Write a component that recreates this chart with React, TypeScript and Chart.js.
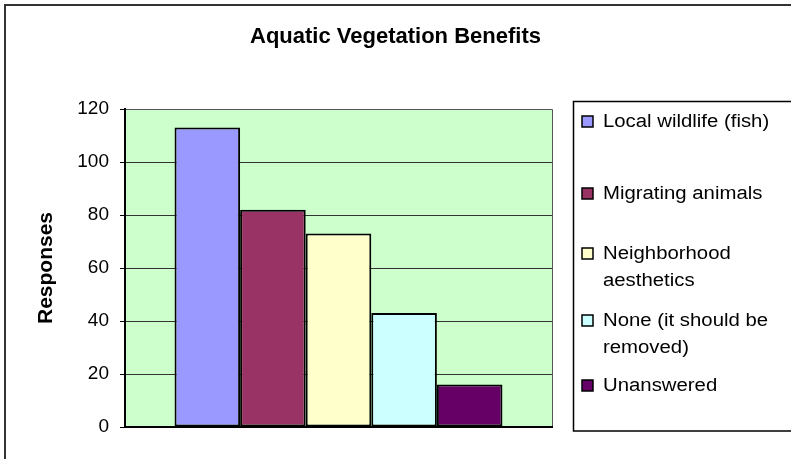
import React, { useEffect, useRef } from "react";
import { Chart, registerables } from "chart.js";

Chart.register(...registerables);

const chartTitle = "Aquatic Vegetation Benefits";
const yAxisTitle = "Responses";
const categories = [""];
const seriesNames = [
  "Local wildlife (fish)",
  "Migrating animals",
  "Neighborhood aesthetics",
  "None (it should be removed)",
  "Unanswered",
];
const seriesValues = [113, 82, 73, 43, 16];
const seriesColors = ["#9999FF", "#993366", "#FFFFCC", "#CCFFFF", "#660066"];
const legendLines = [
  ["Local wildlife (fish)"],
  ["Migrating animals"],
  ["Neighborhood", "aesthetics"],
  ["None (it should be", "removed)"],
  ["Unanswered"],
];
const yMin = 0;
const yMax = 120;
const yStep = 20;

// layout constants for the hand-drawn legend (pixel positions, not data)
const legendItemY = [121, 193, 253, 320, 385];
const legendLineGap = 27;

const FONT = '"Liberation Sans", Arial, sans-serif';

const framePlugin = {
  id: "excelFrame",
  beforeDraw(chart: any) {
    const { ctx, chartArea: a } = chart;
    ctx.save();
    ctx.fillStyle = "#FFFFFF";
    ctx.fillRect(0, 0, chart.width, chart.height);
    ctx.fillStyle = "#CCFFCC";
    ctx.fillRect(a.left, a.top, a.right - a.left, a.bottom - a.top);
    ctx.restore();
  },
  afterDraw(chart: any) {
    const { ctx, chartArea: a } = chart;
    ctx.save();
    // plot frame
    ctx.strokeStyle = "#555555";
    ctx.lineWidth = 1;
    ctx.beginPath();
    ctx.moveTo(a.left, a.top + 0.5);
    ctx.lineTo(a.right + 0.5, a.top + 0.5);
    ctx.lineTo(a.right + 0.5, a.bottom);
    ctx.stroke();
    ctx.strokeStyle = "#000000";
    ctx.lineWidth = 2;
    ctx.beginPath();
    ctx.moveTo(a.left, a.top);
    ctx.lineTo(a.left, a.bottom);
    ctx.lineTo(a.right + 1, a.bottom);
    ctx.stroke();

    // outer chart border
    ctx.strokeStyle = "#333333";
    ctx.lineWidth = 2;
    ctx.strokeRect(5, 5, 900, 600);

    // legend box
    ctx.strokeStyle = "#000000";
    ctx.lineWidth = 1.5;
    ctx.strokeRect(573.5, 101.5, 400, 329.5);

    // legend entries
    ctx.font = `18px ${FONT}`;
    ctx.textBaseline = "middle";
    ctx.textAlign = "left";
    chart.data.datasets.forEach((ds: any, i: number) => {
      const y = legendItemY[i];
      ctx.fillStyle = ds.backgroundColor;
      ctx.fillRect(582, y - 5, 11, 11);
      ctx.strokeStyle = "#000000";
      ctx.lineWidth = 1.5;
      ctx.strokeRect(582, y - 5, 11, 11);
      ctx.fillStyle = "#000000";
      legendLines[i].forEach((line, j) => {
        ctx.save();
        ctx.translate(603, y + j * legendLineGap);
        ctx.scale(1.13, 1);
        ctx.fillText(line, 0, 1);
        ctx.restore();
      });
    });
    ctx.restore();
  },
};

export default function App() {
  const ref = useRef<HTMLCanvasElement>(null);
  useEffect(() => {
    document.body.style.margin = "0";
    Chart.defaults.font.family = FONT;
    Chart.defaults.color = "#000000";
    const chart = new Chart(ref.current!, {
      type: "bar",
      data: {
        labels: categories,
        datasets: seriesNames.map((name, i) => ({
          label: name,
          data: [seriesValues[i]],
          backgroundColor: seriesColors[i],
          borderColor: "#000000",
          borderWidth: 2,
          borderSkipped: false,
          barPercentage: 1,
          categoryPercentage: 0.768,
        })),
      },
      options: {
        animation: false,
        responsive: false,
        devicePixelRatio: 1,
        layout: { padding: { left: 0, top: 0, right: 0, bottom: 32 } },
        plugins: {
          legend: { display: false },
          tooltip: { enabled: false },
          title: {
            display: true,
            text: chartTitle,
            color: "#000000",
            font: { size: 22, weight: "bold", family: FONT },
            padding: { top: 24, bottom: 58.6 },
          },
        },
        scales: {
          x: { display: false },
          y: {
            position: "left",
            min: yMin,
            max: yMax,
            ticks: {
              stepSize: yStep,
              color: "#000000",
              font: { size: 19, family: FONT },
              padding: 11,
            },
            grid: {
              color: "#333333",
              lineWidth: 1,
              tickLength: 5,
              tickColor: "#000000",
            },
            border: { display: true, color: "#000000", width: 2 },
            title: {
              display: true,
              text: yAxisTitle,
              color: "#000000",
              font: { size: 21, weight: "bold", family: FONT },
              padding: { top: 34, bottom: 0 },
            },
            afterFit: (s: any) => {
              s.width = 125;
            },
          },
          yRight: {
            position: "right",
            display: true,
            min: yMin,
            max: yMax,
            ticks: { display: false },
            grid: { display: false, drawTicks: false },
            border: { display: false },
            afterFit: (s: any) => {
              s.width = 239;
            },
          },
        },
      },
      plugins: [framePlugin],
    });
    return () => chart.destroy();
  }, []);
  return (
    <div style={{ width: 791, height: 459 }}>
      <canvas ref={ref} width={791} height={459} />
    </div>
  );
}
